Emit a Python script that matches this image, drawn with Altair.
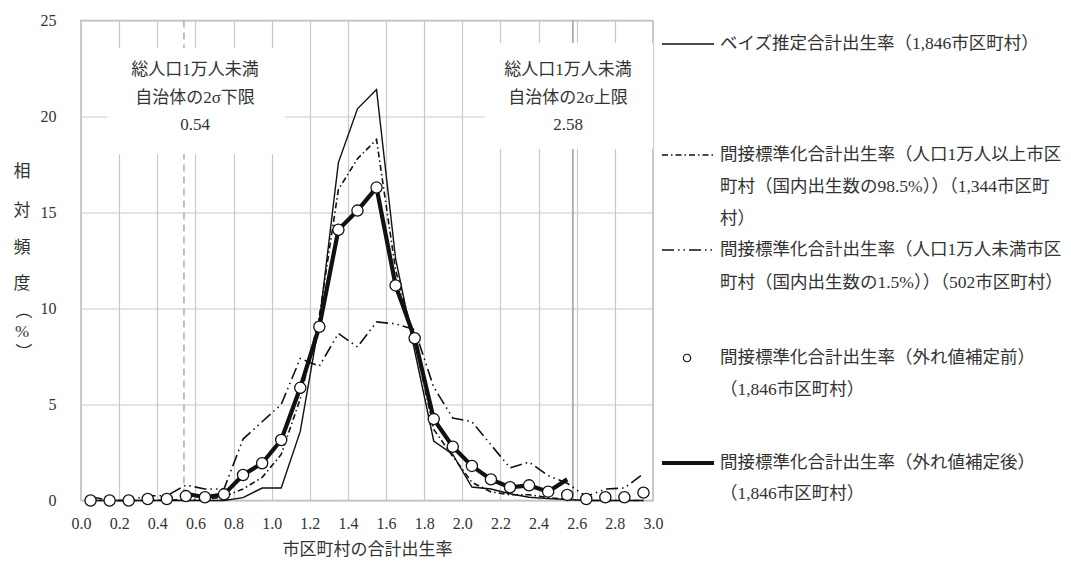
import altair as alt
import pandas as pd

# ---- data ----
bins = [0.05, 0.15, 0.25, 0.35, 0.45, 0.55, 0.65, 0.75, 0.85, 0.95,
        1.05, 1.15, 1.25, 1.35, 1.45, 1.55, 1.65, 1.75, 1.85, 1.95,
        2.05, 2.15, 2.25, 2.35, 2.45, 2.55, 2.65, 2.75, 2.85, 2.95]
bayes = [0, 0, 0, 0, 0, 0, 0, 0, 0.15, 0.65,
         0.65, 3.6, 9.3, 17.6, 20.4, 21.4, 12.6, 7.8, 3.1, 2.4,
         0.7, 0.6, 0.35, 0.17, 0.1, 0.05, 0, 0, 0, 0]
over10k = [0, 0, 0, 0, 0.02, 0.05, 0.05, 0.2, 0.6, 1.2,
           2.4, 5.3, 9.6, 16.2, 17.8, 18.8, 12.0, 8.3, 3.7, 2.3,
           0.95, 0.45, 0.3, 0.3, 0.15, 0.06, 0, 0, 0, 0]
under10k = [0.2, 0, 0, 0.25, 0.25, 0.8, 0.6, 0.6, 3.2, 4.1,
            5.0, 7.4, 7.0, 8.7, 8.0, 9.3, 9.2, 8.9, 5.9, 4.3,
            4.1, 2.9, 1.7, 2.0, 1.3, 0.9, 0.2, 0.6, 0.65, 1.4]
before = [0, 0, 0, 0.08, 0.08, 0.23, 0.17, 0.32, 1.33, 1.94,
          3.15, 5.87, 9.05, 14.1, 15.1, 16.3, 11.2, 8.45, 4.24, 2.8,
          1.8, 1.1, 0.69, 0.79, 0.46, 0.29, 0.08, 0.17, 0.17, 0.41]
after = [None, None, None, None, None, 0.35, 0.17, 0.32, 1.33, 1.94,
         3.15, 5.87, 9.05, 14.1, 15.1, 16.3, 11.2, 8.45, 4.24, 2.8,
         1.8, 1.1, 0.69, 0.79, 0.46, 1.1, None, None, None, None]

limits = [0.54, 2.58]
x_ticks = [0.0, 0.2, 0.4, 0.6, 0.8, 1.0, 1.2, 1.4, 1.6, 1.8, 2.0, 2.2, 2.4, 2.6, 2.8, 3.0]
y_ticks = [0, 5, 10, 15, 20, 25]

x_title = "市区町村の合計出生率"
y_title_chars = ["相", "対", "頻", "度", "（", "%", "）"]
box_left = ["総人口1万人未満", "自治体の2σ下限", "0.54"]
box_right = ["総人口1万人未満", "自治体の2σ上限", "2.58"]
legend_lines = [
    ["ベイズ推定合計出生率（1,846市区町村）"],
    ["間接標準化合計出生率（人口1万人以上市区", "町村（国内出生数の98.5%））（1,344市区町", "村）"],
    ["間接標準化合計出生率（人口1万人未満市区", "町村（国内出生数の1.5%））（502市区町村）"],
    ["間接標準化合計出生率（外れ値補定前）", "（1,846市区町村）"],
    ["間接標準化合計出生率（外れ値補定後）", "（1,846市区町村）"],
]

FONT = "'Liberation Serif', 'Noto Sans CJK JP', serif"
TXT = "#333333"
INK = "#111111"

df = pd.DataFrame({"x": bins, "bayes": bayes, "over": over10k, "under": under10k,
                   "before": before, "after": after})
one = pd.DataFrame({"k": [0]})
lim_df = pd.DataFrame({"x": limits})

xs = alt.Scale(domain=[0, 3], nice=False)
ys = alt.Scale(domain=[0, 25], nice=False)
xaxis = alt.Axis(values=x_ticks, format=".1f", labelFlush=False, labelPadding=15,
                 title=x_title, titleFont=FONT, titleFontSize=17, titleFontWeight="normal",
                 titleColor=TXT, titleY=48.5, titleBaseline="middle")
yaxis = alt.Axis(values=y_ticks, labelFlush=False, labelPadding=25, title=None)


def X(field="x"):
    return alt.X(f"{field}:Q", scale=xs, axis=xaxis)


def Y(field):
    return alt.Y(f"{field}:Q", scale=ys, axis=yaxis)


layers = []

# reference limit lines
layers.append(alt.Chart(lim_df).transform_filter(alt.datum.x < 1).mark_rule(
    color="#aeb3b8", strokeWidth=1.6, strokeDash=[7, 5]).encode(x=X()))
layers.append(alt.Chart(lim_df).transform_filter(alt.datum.x > 1).mark_rule(
    color="#a0a4a8", strokeWidth=1.6).encode(x=X()))

# white annotation boxes
for (x0, x1, y0, y1) in [(26, 204, 27.5, 133.5), (404, 572, 22.5, 128.5)]:
    layers.append(alt.Chart(one).mark_rect(color="white").encode(
        x=alt.value(x0), x2=alt.value(x1), y=alt.value(y0), y2=alt.value(y1)))
for cx, lines in [(114, box_left), (487, box_right)]:
    for i, t in enumerate(lines):
        layers.append(alt.Chart(one).mark_text(font=FONT, fontSize=17, color=TXT,
                                               align="center", baseline="middle").encode(
            x=alt.value(cx), y=alt.value(49.5 + 27.5 * i), text=alt.value(t)))

# data series
DASH_OVER = [6, 3, 1.5, 3]
DASH_UNDER = [12, 4, 1.5, 4, 1.5, 4]
layers.append(alt.Chart(df).mark_line(color=INK, strokeWidth=1.4).encode(x=X(), y=Y("bayes")))
layers.append(alt.Chart(df).mark_line(color=INK, strokeWidth=1.6, strokeDash=DASH_OVER).encode(x=X(), y=Y("over")))
layers.append(alt.Chart(df).mark_line(color=INK, strokeWidth=1.6, strokeDash=DASH_UNDER).encode(x=X(), y=Y("under")))
layers.append(alt.Chart(df).mark_line(color=INK, strokeWidth=4.2).encode(x=X(), y=Y("after")))
layers.append(alt.Chart(df).mark_point(shape="circle", filled=True, fill="white", stroke=INK,
                                       strokeWidth=1.3, size=125, opacity=1).encode(x=X(), y=Y("before")))

# y-axis title (vertical characters; brackets turned for vertical writing)
for ch, yy in zip(y_title_chars, [151.5, 190.5, 227.5, 263.5, 290, 311, 331]):
    ang = 90 if ch in ("（", "）") else 0
    layers.append(alt.Chart(one).mark_text(font=FONT, fontSize=17, color=TXT, angle=ang,
                                           align="center", baseline="middle").encode(
        x=alt.value(-59), y=alt.value(yy), text=alt.value(ch)))

# custom legend
sw_x0, sw_x1, txt_x = 581, 633, 639
item_y = [[23.5], [134.5, 166.5, 198.5], [229.5, 262.5], [337.5, 369.5], [442.5, 473.5]]
swatches = [dict(strokeWidth=1.4), dict(strokeWidth=1.6, strokeDash=DASH_OVER),
            dict(strokeWidth=1.6, strokeDash=DASH_UNDER), None, dict(strokeWidth=4.2)]
for lines, ys_, sw in zip(legend_lines, item_y, swatches):
    if sw is None:
        layers.append(alt.Chart(one).mark_point(shape="circle", filled=True, fill="white",
                                                stroke=INK, strokeWidth=1.1, size=55, opacity=1).encode(
            x=alt.value(606), y=alt.value(ys_[0])))
    else:
        layers.append(alt.Chart(one).mark_rule(color=INK, **sw).encode(
            x=alt.value(sw_x0), x2=alt.value(sw_x1), y=alt.value(ys_[0])))
    for t, yy in zip(lines, ys_):
        layers.append(alt.Chart(one).mark_text(font=FONT, fontSize=17.5, color=TXT,
                                               align="left", baseline="middle").encode(
            x=alt.value(txt_x), y=alt.value(yy), text=alt.value(t)))

chart = alt.layer(*layers).properties(
    width=572, height=480,
    autosize=alt.AutoSizeParams(type="none"),
    padding={"left": 73, "top": 12.5, "right": 410, "bottom": 59.5},
).configure_view(stroke="#b8b8b8", strokeWidth=1.5).configure_axis(
    domain=False, ticks=False, grid=True, gridColor="#c8cacc", gridWidth=1.2,
    labelFont=FONT, labelFontSize=16, labelColor=TXT,
)

chart.save("out.html", embed_options={"renderer": "svg", "actions": False})
